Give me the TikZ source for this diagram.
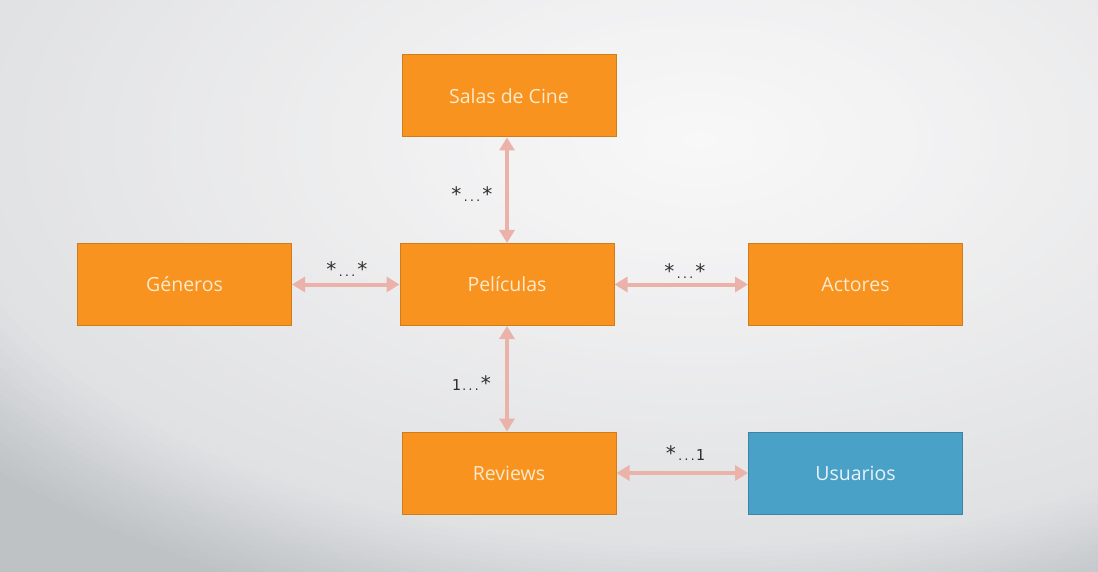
\documentclass[tikz,border=0pt]{standalone}
\usepackage{fontspec}
\setmainfont{Open Sans}
\newfontfamily\labfont{DejaVu Sans Mono}
\usetikzlibrary{arrows.meta}
\definecolor{orangefill}{HTML}{F7931E}
\definecolor{orangeline}{HTML}{D27B1A}
\definecolor{bluefill}{HTML}{49A1C8}
\definecolor{blueline}{HTML}{3A84A4}
\definecolor{orangetext}{HTML}{FDE9CC}
\definecolor{bluetext}{HTML}{E8F2F7}
\definecolor{arrowcol}{HTML}{EBB2AA}
\definecolor{labcol}{HTML}{2E2E2E}
\definecolor{bgA}{HTML}{F8F8F8}
\definecolor{bgB}{HTML}{F1F1F2}
\definecolor{bgC}{HTML}{E0E1E3}
\definecolor{bgD}{HTML}{BEC2C5}
\tikzset{
  entity/.style={draw=orangeline, fill=orangefill, line width=1pt, minimum width=214pt, minimum height=82pt, inner sep=0pt, text=orangetext, font=\fontsize{19.5}{21}\selectfont},
  entityblue/.style={entity, draw=blueline, fill=bluefill, text=bluetext},
  rel/.style={draw=arrowcol, line width=4pt, {Triangle[length=13pt,width=15pt]}-{Triangle[length=13pt,width=15pt]}},
  mult/.style={text=labcol, inner sep=0pt, font=\labfont}
}
\newcommand{\mstar}{{\fontsize{20}{20}\selectfont *}}
\newcommand{\mone}{{\fontsize{15}{15}\selectfont 1}}
\newcommand{\mdots}{{\fontsize{10.5}{10.5}\selectfont ...}}
\begin{document}
\begin{tikzpicture}[x=1pt, y=-1pt]
\useasboundingbox (0,0) rectangle (1098,572);
\begin{scope}
\clip (0,0) rectangle (1098,572);
\fill[bgD] (0,0) rectangle (1098,572);
% band 1: r from 1.05 to 0.85 (D -> C)
\foreach \k in {0,...,19}{
  \pgfmathsetmacro{\r}{1.05-\k*0.01}
  \pgfmathsetmacro{\p}{(\r-0.85)/0.20*100}
  \fill[bgD!\p!bgC] (700,140) ellipse ({900*\r} and {480*\r});
}
% band 2: r from 0.85 to 0.30 (C -> B)
\foreach \k in {0,...,27}{
  \pgfmathsetmacro{\r}{0.85-\k*0.02}
  \pgfmathsetmacro{\p}{(\r-0.30)/0.55*100}
  \fill[bgC!\p!bgB] (700,140) ellipse ({900*\r} and {480*\r});
}
% band 3: r from 0.30 to 0.02 (B -> A)
\foreach \k in {0,...,14}{
  \pgfmathsetmacro{\r}{0.30-\k*0.02}
  \pgfmathsetmacro{\p}{\r/0.30*100}
  \fill[bgB!\p!bgA] (700,140) ellipse ({900*\r} and {480*\r});
}
\end{scope}
\node[entity] (sal) at (509,96) {Salas de Cine};
\node[entity] (pel) at (507,284.5) {Películas};
\node[entity] (gen) at (184.5,284.5) {Géneros};
\node[entity] (act) at (855.5,284.5) {Actores};
\node[entity] (rev) at (509,473) {Reviews};
\node[entityblue] (usu) at (855.5,473) {Usuarios};
\draw[rel] (sal.south -| pel.north) -- (pel.north);
\draw[rel] (gen.east) -- (pel.west);
\draw[rel] (pel.east) -- (act.west);
\draw[rel] (pel.south) -- (pel.south |- rev.north);
\draw[rel] (rev.east) -- (usu.west);
\node[mult] (l1) at (472,194) {\mstar\mdots\mstar};
\node[mult] (l2) at (347,269) {\mstar\mdots\mstar};
\node[mult] (l3) at (685,271) {\mstar\mdots\mstar};
\node[mult] (l4) at (472,383) {\mone\mdots\mstar};
\node[mult] (l5) at (685,453) {\mstar\mdots\mone};
\end{tikzpicture}
\end{document}
